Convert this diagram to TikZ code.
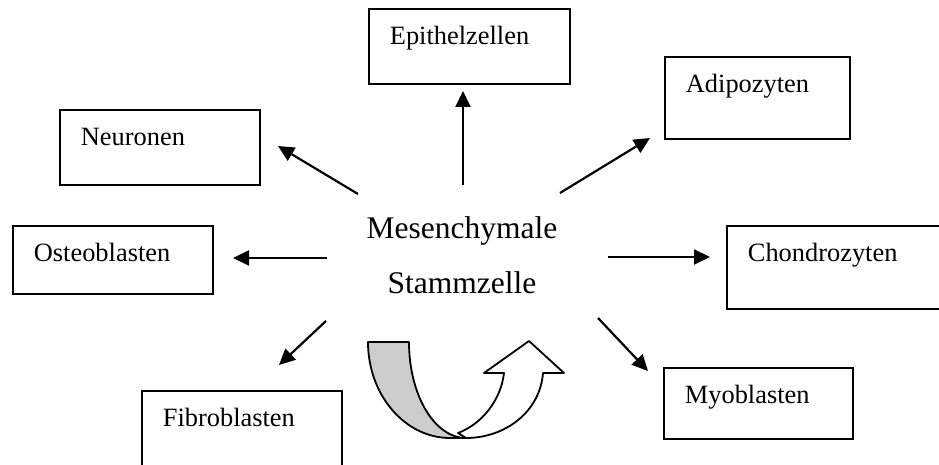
\documentclass[tikz,border=0pt]{standalone}
\usepackage{xcolor}
\usepackage{fontspec}
\setmainfont{Liberation Serif}
\usepackage{tikz}
\usetikzlibrary{positioning, arrows.meta}
\definecolor{bandgray}{HTML}{CCCCCC}

\tikzset{
  cellbox/.style 2 args={draw, line width=0.9pt, anchor=north west,
    inner ysep=0pt, inner xsep=10.5pt, align=left,
    text width=#1, text height=18pt, text depth=#2,
    font=\fontsize{13.2pt}{15pt}\selectfont},
  diffarrow/.style={line width=1.1pt, -{Triangle[length=8pt, width=7.5pt]}},
  turnband/.style={line width=0.9pt, line join=round}
}

\begin{document}
\begin{tikzpicture}[x=0.5pt, y=-0.5pt]
  \clip (0,0) rectangle (939,465);

  % center
  \node[align=center, font=\fontsize{15.75pt}{27.5pt}\selectfont] (msc) at (462,255)
    {Mesenchymale\\Stammzelle};

  % target cells
  \node[cellbox={79.5pt}{19.5pt}] (epi) at (368,8) {Epithelzellen};
  \node[cellbox={71.5pt}{23pt}] (adi) at (664,56) {Adipozyten};
  \node[cellbox={79pt}{19.5pt}] (neu) at (59,109) {Neuronen};
  \node[cellbox={79pt}{16pt}] (ost) at (12,225) {Osteoblasten};
  \node[cellbox={94pt}{23.5pt}] (cho) at (726,225) {Chondrozyten};
  \node[cellbox={73.5pt}{17.5pt}] (myo) at (663,367) {Myoblasten};
  \node[cellbox={79pt}{22pt}] (fib) at (141,390) {Fibroblasten};

  % arrow ends
  \coordinate (epi-s) at (463,185);  \coordinate (epi-t) at (463,91);
  \coordinate (neu-s) at (358,194);  \coordinate (neu-t) at (278,146);
  \coordinate (adi-s) at (560,193);  \coordinate (adi-t) at (650,138);
  \coordinate (ost-s) at (327,258);  \coordinate (ost-t) at (233,258);
  \coordinate (cho-s) at (608,257);  \coordinate (cho-t) at (710,257);
  \coordinate (fib-s) at (326,321);  \coordinate (fib-t) at (279,365);
  \coordinate (myo-s) at (598,318);  \coordinate (myo-t) at (648,371);

  \foreach \c in {epi, neu, adi, ost, cho, fib, myo}
    \draw[diffarrow] (\c-s) -- (\c-t);

  % self renewal arrow
  \draw[turnband, fill=bandgray] (409,342) -- (368,342)
    .. controls (368,395) and (405,438) .. (450,438) -- (466,438)
    .. controls (434.5,438) and (409,395) .. (409,342) -- cycle;
  \draw[turnband, fill=white] (458,433)
    .. controls (482,424) and (501,400) .. (504,373)
    -- (484,373) -- (529,341) -- (564,373) -- (543,373)
    .. controls (540,412) and (505,438) .. (466,438) -- cycle;
\end{tikzpicture}
\end{document}
